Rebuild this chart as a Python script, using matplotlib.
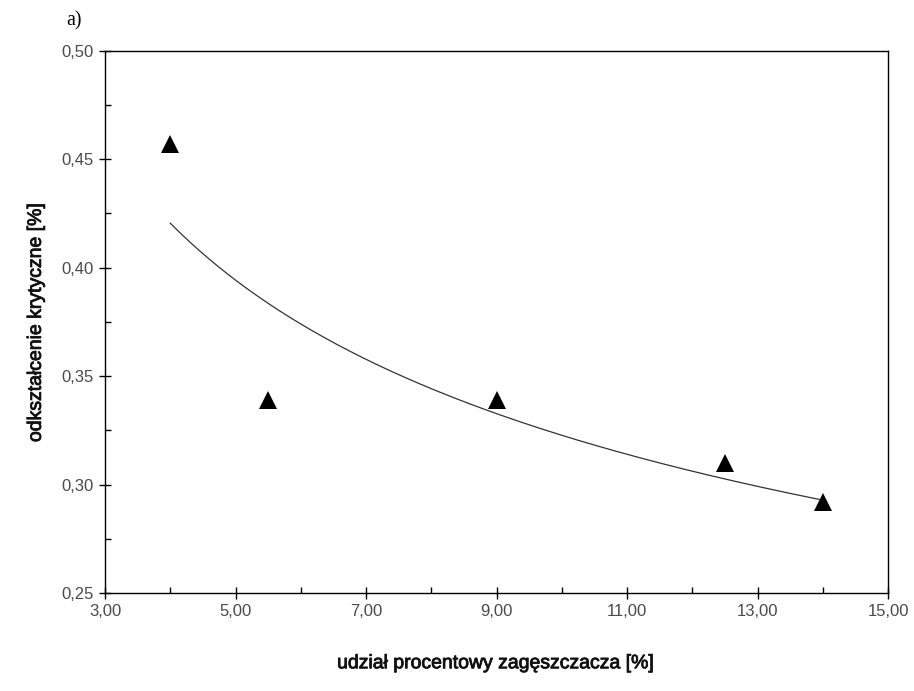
import numpy as np
import matplotlib
matplotlib.use("Agg")
import matplotlib.pyplot as plt
import matplotlib.patheffects as pe
from matplotlib.ticker import MultipleLocator, FuncFormatter

# thickener share [%] vs critical strain [%]
udzial = [4.0, 5.5, 9.0, 12.5, 14.0]
odksztalcenie = [0.457, 0.339, 0.339, 0.310, 0.292]

x_ticks = [3, 5, 7, 9, 11, 13, 15]
y_ticks = [0.25, 0.30, 0.35, 0.40, 0.45, 0.50]

plt.rcParams['font.family'] = ['Liberation Sans', 'DejaVu Sans']

fig = plt.figure(figsize=(9.14, 6.91), dpi=100)
ax = fig.add_axes([0.1149, 0.1418, 0.9716 - 0.1149, 0.9266 - 0.1418])

# power-law trend line y = a * x^b fitted in log space
b, ln_a = np.polyfit(np.log(udzial), np.log(odksztalcenie), 1)
xf = np.linspace(min(udzial), max(udzial), 200)
yf = np.exp(ln_a) * xf ** b
ax.plot(xf, yf, color='#333333', lw=0.9, zorder=2)

ax.plot(udzial, odksztalcenie, linestyle='none', marker='^', markersize=13.5,
        color='black', markeredgewidth=0, zorder=3)

ax.set_xlim(3, 15)
ax.set_ylim(0.25, 0.50)
ax.set_xticks(x_ticks)
ax.set_yticks(y_ticks)
ax.xaxis.set_minor_locator(MultipleLocator(1))
ax.yaxis.set_minor_locator(MultipleLocator(0.025))
ax.xaxis.set_major_formatter(FuncFormatter(lambda v, p: f"{v:.2f}".replace('.', ',')))
ax.yaxis.set_major_formatter(FuncFormatter(lambda v, p: f"{v:.2f}".replace('.', ',')))

ax.tick_params(which='major', direction='inout', length=8, width=1, color='black',
               labelsize=12, labelcolor='#4a4a4a', pad=4, top=False, right=False)
ax.tick_params(which='minor', direction='in', length=4, width=1, color='black',
               top=False, right=False)
for s in ax.spines.values():
    s.set_linewidth(1.0)
    s.set_color('black')

heavy = [pe.withStroke(linewidth=0.6, foreground='#111111')]
xl = ax.set_xlabel('udział procentowy zagęszczacza [%]', fontsize=14, color='#111111',
                   labelpad=26)
yl = ax.set_ylabel('odkształcenie krytyczne [%]', fontsize=14, color='#111111',
                   labelpad=12)
xl.set_path_effects(heavy)
yl.set_path_effects(heavy)

fig.text(74 / 914, 1 - 21 / 691, 'a)', family=['Liberation Serif'], fontsize=14.5,
         ha='center', va='center', color='black')

fig.savefig('out.png', dpi=100)
